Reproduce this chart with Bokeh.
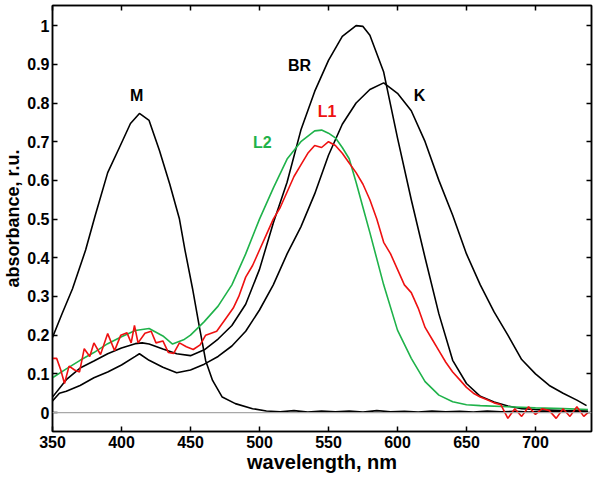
from bokeh.plotting import figure
from bokeh.models import (LinearAxis, Range1d, Span, FixedTicker, Label, CustomJSTickFormatter,
                          CustomLabelingPolicy)
from bokeh.embed import file_html
from bokeh.resources import INLINE

# ---------------- data ----------------
m_wl = [350, 357, 364.5, 374, 381, 390, 398.5, 406.5, 413, 420, 427.5, 435, 442, 446, 451.5,
        456.5, 461, 466, 473, 482.5, 495, 505, 515, 525, 535, 545, 555, 565, 575, 585, 595,
        605, 615, 625, 635, 645, 655, 665, 675, 685, 695, 705, 715, 725, 738]
m_abs = [0.194, 0.256, 0.32, 0.42, 0.51, 0.62, 0.685, 0.747, 0.773, 0.755, 0.677, 0.59, 0.50, 0.42, 0.32,
         0.22, 0.134, 0.083, 0.04, 0.023, 0.01, 0.004, 0.002, 0.005, 0.001, 0.004, 0.002, 0.004, 0.001, 0.005, 0.002,
         0.003, 0.001, 0.004, 0.002, 0.003, 0.001, 0.004, 0.002, 0.003, 0.001, 0.003, 0.002, 0.003, 0.002]

br_wl = [350, 360, 370, 380, 390, 400, 410, 415, 420, 430, 440, 450, 460, 470, 480, 490, 500, 510,
         520, 530, 540, 550, 560, 570, 575, 580, 590, 600, 610, 620, 630, 640, 650, 660, 670, 680,
         690, 700, 720, 738]
br_abs = [0.04, 0.085, 0.115, 0.133, 0.152, 0.167, 0.178, 0.18, 0.177, 0.164, 0.152, 0.147, 0.162, 0.19,
          0.225, 0.28, 0.37, 0.49, 0.595, 0.73, 0.83, 0.91, 0.972, 1.0, 0.998, 0.975, 0.88, 0.71, 0.55,
          0.40, 0.255, 0.135, 0.075, 0.042, 0.027, 0.017, 0.01, 0.008, 0.005, 0.004]

k_wl = [350, 355, 360, 370, 380, 390, 400, 410, 413, 420, 430, 440, 450, 460, 470, 480, 490, 500,
        510, 520, 530, 540, 550, 560, 570, 580, 590, 600, 610, 620, 630, 640, 650, 660, 670, 680,
        690, 700, 710, 720, 730, 737]
k_abs = [0.03, 0.05, 0.055, 0.07, 0.09, 0.105, 0.123, 0.145, 0.152, 0.135, 0.117, 0.103, 0.11, 0.125,
         0.145, 0.172, 0.21, 0.265, 0.33, 0.41, 0.48, 0.565, 0.665, 0.745, 0.80, 0.835, 0.852, 0.825,
         0.78, 0.70, 0.60, 0.51, 0.41, 0.33, 0.26, 0.20, 0.137, 0.10, 0.07, 0.05, 0.032, 0.018]

l2_wl = [350, 360, 370, 380, 390, 400, 410, 420, 430, 437, 445, 450, 460, 470, 480, 490, 500, 510,
         520, 530, 540, 545, 550, 555, 560, 565, 570, 575, 580, 590, 600, 610, 620, 630, 640, 650,
         660, 680, 700, 720, 738]
l2_abs = [0.09, 0.113, 0.135, 0.155, 0.178, 0.196, 0.212, 0.217, 0.198, 0.177, 0.188, 0.2, 0.235,
          0.275, 0.33, 0.41, 0.50, 0.58, 0.655, 0.70, 0.728, 0.73, 0.722, 0.71, 0.685, 0.656, 0.595,
          0.53, 0.465, 0.33, 0.213, 0.14, 0.08, 0.045, 0.028, 0.02, 0.018, 0.015, 0.012, 0.01, 0.008]

l1_wl = [350, 353, 356, 358.7, 362, 366, 369.6, 373, 377, 380, 384.8, 390, 395, 399.5, 404, 407,
         409.4, 412, 417, 421.5, 425, 430, 434, 437.8, 442, 447, 452, 457, 461, 469, 476, 481,
         485, 490, 495, 500, 505, 510, 515, 520, 525, 530, 535, 540, 545, 550, 555, 560, 565,
         570, 575, 580, 585, 590, 595, 600, 605, 610, 615, 620, 625, 630, 635, 640, 645, 650,
         655, 660, 665, 670, 675, 680, 685, 690, 695, 700, 705, 710, 715, 720, 725, 730, 735, 738]
l1_abs = [0.14, 0.14, 0.11, 0.075, 0.12, 0.11, 0.105, 0.165, 0.145, 0.18, 0.15, 0.204, 0.16, 0.2,
          0.206, 0.18, 0.225, 0.18, 0.205, 0.21, 0.18, 0.185, 0.155, 0.153, 0.18, 0.17, 0.163,
          0.175, 0.2, 0.21, 0.245, 0.27, 0.3, 0.35, 0.38, 0.42, 0.46, 0.5, 0.53, 0.57, 0.61, 0.64,
          0.67, 0.69, 0.685, 0.70, 0.69, 0.67, 0.645, 0.62, 0.59, 0.55, 0.5, 0.44, 0.41, 0.37,
          0.33, 0.31, 0.27, 0.22, 0.19, 0.16, 0.13, 0.105, 0.085, 0.065, 0.05, 0.04, 0.033, 0.025,
          0.02, -0.015, 0.01, -0.01, 0.015, -0.005, 0.01, 0.005, -0.015, 0.01, -0.01, 0.015, -0.01, 0.0]

x_ticks = [350, 400, 450, 500, 550, 600, 650, 700]
y_ticks = [0, 0.1, 0.2, 0.3, 0.4, 0.5, 0.6, 0.7, 0.8, 0.9, 1]

labels = ["M", "BR", "L1", "L2", "K"]
label_x = [411, 529, 549, 502, 616]
label_y = [0.82, 0.897, 0.778, 0.698, 0.82]
label_colors = ["black", "black", "#ee1111", "#1fb24a", "black"]

# ---------------- figure ----------------
FONT = "Liberation Sans"
p = figure(frame_width=539, frame_height=426,
           x_range=Range1d(350, 740.6), y_range=Range1d(-0.049, 1.052),
           output_backend="svg", toolbar_location=None,
           min_border_left=0, min_border_right=2, min_border_top=5, min_border_bottom=0)
p.grid.visible = False
p.outline_line_color = "black"
p.outline_line_width = 1.5
p.background_fill_color = "white"
p.border_fill_color = "white"

fmt = CustomJSTickFormatter(code="return String(Number(tick.toFixed(2)));")
no_labels = CustomLabelingPolicy(code="return new Set();")

def style_axis(ax, show_labels):
    ax.axis_line_color = "black"
    ax.axis_line_width = 1.5
    ax.major_tick_in = 5
    ax.major_tick_out = 0
    ax.major_tick_line_width = 1.5
    ax.minor_tick_line_color = None
    ax.major_label_text_font = FONT
    ax.major_label_text_font_style = "bold"
    ax.major_label_text_font_size = "16px" if show_labels else "1px"
    ax.major_label_standoff = 5 if show_labels else 0
    ax.axis_label_text_font = FONT
    ax.axis_label_text_font_style = "bold"
    ax.axis_label_text_color = "black"
    ax.major_label_text_color = "black"
    if not show_labels:
        ax.major_label_policy = no_labels

p.xaxis.ticker = FixedTicker(ticks=x_ticks)
p.yaxis.ticker = FixedTicker(ticks=y_ticks)
p.xaxis.formatter = fmt
p.yaxis.formatter = fmt
style_axis(p.xaxis[0], True)
style_axis(p.yaxis[0], True)
p.yaxis.major_label_standoff = 3
p.xaxis.major_label_standoff = 4
p.xaxis.axis_label = "wavelength, nm"
p.xaxis.axis_label_text_font_size = "20px"
p.xaxis.axis_label_standoff = 0
p.yaxis.axis_label = "absorbance, r.u."
p.yaxis.axis_label_text_font_size = "18px"
p.yaxis.axis_label_standoff = 1

top = LinearAxis(ticker=FixedTicker(ticks=x_ticks), formatter=fmt)
right = LinearAxis(ticker=FixedTicker(ticks=y_ticks), formatter=fmt)
style_axis(top, False)
style_axis(right, False)
p.add_layout(top, "above")
p.add_layout(right, "right")

p.add_layout(Span(location=0, dimension="width", line_color="#a8a8a8", line_width=1.2))

p.line(m_wl, m_abs, line_color="black", line_width=1.6)
p.line(br_wl, br_abs, line_color="black", line_width=1.6)
p.line(k_wl, k_abs, line_color="black", line_width=1.6)
p.line(l2_wl, l2_abs, line_color="#1fb24a", line_width=1.6)
p.line(l1_wl, l1_abs, line_color="#ee1111", line_width=1.6)

for t, x, y, c in zip(labels, label_x, label_y, label_colors):
    p.add_layout(Label(x=x, y=y, text=t, text_color=c, text_font=FONT, text_font_style="bold",
                       text_font_size="16px", text_align="center", text_baseline="middle"))

open("out.html", "w").write(file_html(p, INLINE))
